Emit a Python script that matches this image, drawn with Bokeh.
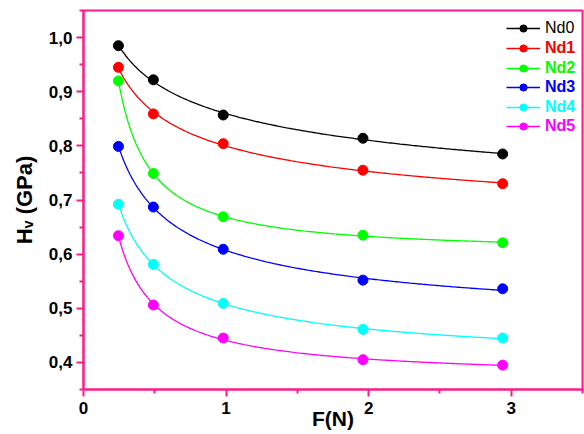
import numpy as np
from bokeh.plotting import figure
from bokeh.models import (Legend, LegendItem, FixedTicker,
                          CustomJSTickFormatter, ColumnDataSource)
from bokeh.embed import file_html
from bokeh.resources import INLINE

# ---------------- data ----------------
force_n = [0.245, 0.49, 0.98, 1.96, 2.94]
nd0 = [0.985, 0.922, 0.857, 0.814, 0.785]
nd1 = [0.945, 0.859, 0.804, 0.755, 0.730]
nd2 = [0.920, 0.749, 0.669, 0.635, 0.621]
nd3 = [0.799, 0.687, 0.609, 0.552, 0.536]
nd4 = [0.692, 0.581, 0.509, 0.461, 0.445]
nd5 = [0.634, 0.506, 0.445, 0.405, 0.395]
series_names = ["Nd0", "Nd1", "Nd2", "Nd3", "Nd4", "Nd5"]
series_values = [nd0, nd1, nd2, nd3, nd4, nd5]
series_colors = ["#000000", "#FF0000", "#00FF00", "#0000FF", "#00FFFF", "#FF00FF"]
series_bold = [False, True, True, True, True, True]

x_ticks = [0, 1, 2, 3]
x_tick_labels = ["0", "1", "2", "3"]
y_ticks = [0.4, 0.5, 0.6, 0.7, 0.8, 0.9, 1.0]
y_tick_labels = ["0,4", "0,5", "0,6", "0,7", "0,8", "0,9", "1,0"]
x_title = "F(N)"
y_title = "H\u1d65 (GPa)"

PINK = "#FF1A8C"
FONT = "Liberation Sans"


def fit_curve(x, y, n=200):
    """Least-squares fit of y = a + b * x**(-c) (grid search on c)."""
    x = np.asarray(x, dtype=float)
    y = np.asarray(y, dtype=float)
    best = None
    for c in np.linspace(0.05, 3.0, 296):
        X = np.column_stack([np.ones_like(x), x ** (-c)])
        coef = np.linalg.lstsq(X, y, rcond=None)[0]
        r = float(np.sum((X @ coef - y) ** 2))
        if best is None or r < best[0]:
            best = (r, c, coef)
    _, c, coef = best
    xs = np.linspace(x.min(), x.max(), n)
    return xs, coef[0] + coef[1] * xs ** (-c)


p = figure(width=584, height=434, x_range=(0, 3.5), y_range=(0.35, 1.05),
           output_backend="svg", toolbar_location=None,
           min_border_left=83, min_border_right=2,
           min_border_top=10, min_border_bottom=45,
           background_fill_color="white", border_fill_color="white")

p.xgrid.visible = False
p.ygrid.visible = False
p.outline_line_color = PINK
p.outline_line_width = 2

x_step = x_ticks[1] - x_ticks[0]
y_step = y_ticks[1] - y_ticks[0]
x_minor = [t + x_step / 2 for t in x_ticks]
y_minor = [y_ticks[0] - y_step / 2] + [t + y_step / 2 for t in y_ticks]
p.xaxis.ticker = FixedTicker(ticks=x_ticks, minor_ticks=x_minor)
p.yaxis.ticker = FixedTicker(ticks=y_ticks, minor_ticks=y_minor)

fmt_code = """
let best = 0, d = Infinity;
for (let i = 0; i < tvals.length; i++) {
  const dd = Math.abs(tvals[i] - tick);
  if (dd < d) { d = dd; best = i; }
}
return tlabels[best];
"""
p.xaxis.formatter = CustomJSTickFormatter(args=dict(tvals=x_ticks, tlabels=x_tick_labels), code=fmt_code)
p.yaxis.formatter = CustomJSTickFormatter(args=dict(tvals=y_ticks, tlabels=y_tick_labels), code=fmt_code)

for ax in (p.xaxis, p.yaxis):
    ax.axis_line_color = PINK
    ax.axis_line_width = 2
    ax.major_tick_line_color = PINK
    ax.major_tick_line_width = 2
    ax.minor_tick_line_color = PINK
    ax.minor_tick_line_width = 2
    ax.major_tick_out = 7
    ax.major_tick_in = 0
    ax.minor_tick_out = 4
    ax.minor_tick_in = 0
    ax.major_label_text_font = FONT
    ax.major_label_text_font_style = "bold"
    ax.major_label_text_font_size = "17px"
    ax.major_label_text_color = "black"
    ax.axis_label_text_font = FONT
    ax.axis_label_text_font_style = "bold"
    ax.axis_label_text_color = "black"
p.xaxis.major_label_standoff = 5
p.yaxis.major_label_standoff = 4

p.xaxis.axis_label = x_title
p.xaxis.axis_label_text_font_size = "21px"
p.xaxis.axis_label_standoff = -10
p.yaxis.axis_label = y_title
p.yaxis.axis_label_text_font_size = "22px"
p.yaxis.axis_label_standoff = 9

renderers = []
for name, vals, color in zip(series_names, series_values, series_colors):
    xs, ys = fit_curve(force_n, vals)
    lr = p.line(xs, ys, line_color=color, line_width=1.3)
    src = ColumnDataSource(dict(x=force_n, y=vals))
    sr = p.scatter("x", "y", source=src, marker="circle", size=10,
                   fill_color=color, line_color=color)
    renderers.append((lr, sr))

# legends: one per entry so that each label has its own colour
for i, (name, color, bold, (lr, sr)) in enumerate(zip(series_names, series_colors,
                                                      series_bold, renderers)):
    row_center = 18.3 + 19.6 * i  # from frame top
    lg = Legend(items=[LegendItem(label=name, renderers=[lr, sr])],
                location=(423, 379 - row_center - 9),
                margin=0, padding=0, spacing=0,
                glyph_width=34, glyph_height=18, label_height=18,
                label_standoff=5,
                border_line_alpha=0, background_fill_alpha=0,
                label_text_font=FONT, label_text_font_size="16px",
                label_text_font_style="bold" if bold else "normal",
                label_text_color=color, label_text_baseline="middle")
    p.add_layout(lg)

open("out.html", "w").write(file_html(p, INLINE))
